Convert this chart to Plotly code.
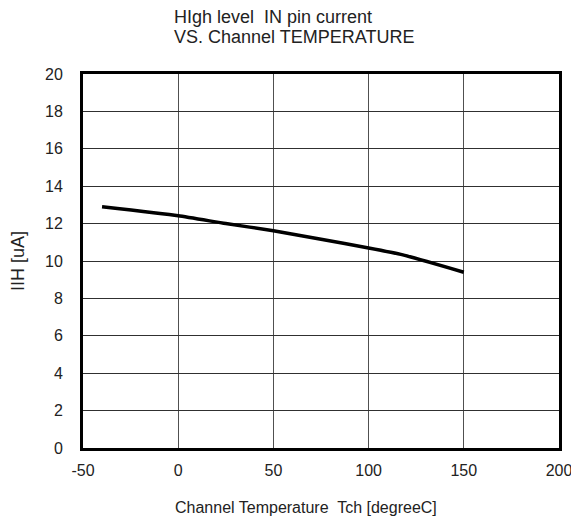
import plotly.graph_objects as go

# channel temperature [degC] and high level IN pin current [uA]
temp_c = [-40, 0, 25, 50, 75, 100, 118, 150]
iih_ua = [12.9, 12.42, 12.0, 11.62, 11.16, 10.7, 10.33, 9.4]

x_ticks = [-50, 0, 50, 100, 150, 200]
x_labels = ["-50", "0", "50", "100", "150", "200"]
y_ticks = [0, 2, 4, 6, 8, 10, 12, 14, 16, 18, 20]

title_lines = ["HIgh level  IN pin current", "VS. Channel TEMPERATURE"]

fig = go.Figure()
fig.add_trace(go.Scatter(
    x=temp_c, y=iih_ua, mode="lines",
    line=dict(color="black", width=3.5, shape="spline", smoothing=0.5),
    showlegend=False,
))

axis_font = dict(family="Liberation Sans, Arial", size=16, color="#222")

# the page body adds an 8px offset, so the figure is 8px smaller
fig.update_layout(
    width=571, height=511,
    margin=dict(l=75, r=20, t=66, b=71),
    paper_bgcolor="white", plot_bgcolor="white",
    font=dict(family="Liberation Sans, Arial", color="#222"),
    xaxis=dict(
        range=[-50, 200], tickvals=x_ticks, ticktext=x_labels,
        tickfont=axis_font, automargin=False, ticklabelstandoff=6,
        showgrid=True, gridcolor="#505050", gridwidth=1,
        showline=True, linecolor="black", linewidth=3, mirror=True,
        zeroline=False, ticks="",
    ),
    yaxis=dict(
        range=[0, 20], tickvals=y_ticks, tickfont=axis_font,
        automargin=False, ticklabelstandoff=14,
        showgrid=True, gridcolor="#303030", gridwidth=1,
        showline=True, linecolor="black", linewidth=3, mirror=True,
        zeroline=False, ticks="",
        title=dict(text="IIH [uA]", font=dict(size=18), standoff=16),
    ),
)

for line, ypos in zip(title_lines, [1.152, 1.099]):
    fig.add_annotation(
        x=0.187, y=ypos, xref="paper", yref="paper",
        xanchor="left", yanchor="middle", align="left",
        text=line, showarrow=False, font=dict(size=18, color="#222"),
    )

# x axis title sits a little left of the plot centre in the original
fig.add_annotation(
    x=0.4685, y=-0.158, xref="paper", yref="paper",
    xanchor="center", yanchor="middle",
    text="Channel Temperature  Tch [degreeC]",
    showarrow=False, font=dict(size=16, color="#222"),
)

fig.write_html("out.html")
